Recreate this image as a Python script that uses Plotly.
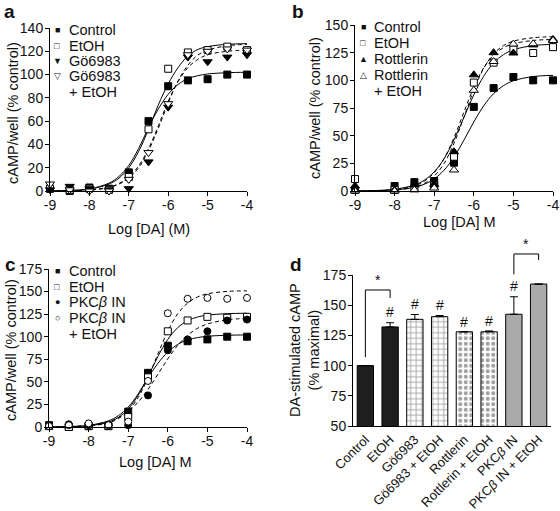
import plotly.graph_objects as go

# ---------------- data ----------------
LOG_DA = [-9, -8.5, -8, -7.5, -7, -6.5, -6, -5.5, -5, -4.5, -4]
LOG_DA_B = [-9, -8, -7.5, -7, -6.5, -6, -5.5, -5, -4.5, -4]
CURVE_X = [-9, -8.5, -8, -7.5, -7.25, -7, -6.75, -6.5, -6.25, -6, -5.75, -5.5, -5.25, -5, -4.5, -4]
X_TICKS = [-9, -8, -7, -6, -5, -4]
X_TICK_TEXT = ["-9", "-8", "-7", "-6", "-5", "-4"]

# panel a
A_CONTROL = [2, 0, 3, 2, 16, 60, 90, 95, 96, 100, 100]
A_ETOH = [2, 1, 2, 1, 12, 53, 105, 119, 121, 124, 121]
A_GO = [1, 4, 2, 1, 2, 25, 72, 115, 111, 115, 117]
A_GO_ETOH = [6, 1, 0, 0, 10, 33, 75, 117, 120, 122, 121]
A_CONTROL_FIT = [0.2, 0.5, 1.8, 6.8, 12.5, 22, 36.5, 54.5, 70.5, 83, 91.5, 96.5, 99, 100.5, 101.6, 102]
A_ETOH_FIT = [0.1, 0.4, 1.5, 6, 11, 20, 34, 53, 74, 92, 106, 116, 121.5, 124, 126, 126.5]
A_GO_FIT = [0, 0.2, 0.8, 3.3, 6.4, 12, 21.6, 36.3, 56, 77, 94, 106, 113, 117, 120, 121]
A_GO_ETOH_FIT = [0, 0.2, 0.8, 3, 5.9, 11, 20, 34.7, 54, 75.6, 94.5, 108, 116.7, 121, 124.7, 126]

# panel b
B_CONTROL = [1, 4.5, 8, 9, 25.6, 76, 93, 103, 100, 100]
B_ETOH = [10.8, 1, 2.7, 5, 31, 98, 116, 128, 124.7, 130]
B_ROTT = [4.5, 1, 5.4, 6, 35.5, 105, 125, 124.7, 132, 137]
B_ROTT_ETOH = [0, 0, 1, 2.7, 19, 91, 117, 132.8, 133, 136]
B_CONTROL_FIT = [0.1, 0.3, 1, 3.3, 6.1, 10.9, 18.9, 30.6, 45.9, 62.4, 77, 88, 95.2, 99.6, 103.4, 104.5]
B_ETOH_FIT = [0.1, 0.4, 1.6, 5.4, 9.8, 17.3, 29.2, 46.2, 66.5, 86.9, 103.7, 115.7, 123.2, 127.6, 131.4, 132.5]
B_ROTT_FIT = [0.1, 0.3, 1.2, 4.6, 8.8, 16.5, 29.4, 48.2, 71.3, 93.7, 111.3, 122.8, 129.5, 133.1, 136, 137]
B_ROTT_ETOH_FIT = [0, 0.2, 0.8, 3.4, 6.8, 13.4, 24.9, 43.1, 66.7, 91.1, 110.9, 123.9, 131.4, 135.4, 138.5, 139.4]

# panel c
C_CONTROL = [2, 0, 1, 1, 17, 60, 90, 95, 97, 100, 100]
C_ETOH = [1, 0, 1, 1, 11, 55, 106, 118, 122, 121, 122]
C_PKC = [2, 3, 2, 2, 2, 35, 85, 97, 106, 118, 119]
C_PKC_ETOH = [1, 2, 4, 2, 6, 51, 126, 142, 143, 142, 143]
C_CONTROL_FIT = [0.2, 0.5, 1.8, 6.8, 12.5, 22, 36.5, 54.5, 70.5, 83, 91.5, 96.5, 99, 100.5, 101.6, 102]
C_ETOH_FIT = [0.1, 0.3, 1.3, 5.4, 10.6, 20, 35.1, 55.8, 78.1, 97, 110, 117.7, 121.8, 123.9, 125.5, 126]
C_PKC_FIT = [0.2, 0.6, 2, 6, 10.3, 17.2, 27.6, 41.6, 58.4, 75.5, 90.4, 101.6, 109.3, 114.1, 118.7, 120.3]
C_PKC_ETOH_FIT = [0.1, 0.3, 1.1, 4.6, 9.2, 17.8, 32.5, 54.4, 80.9, 106.2, 125.3, 137.3, 144, 147.5, 150.2, 150.8]

# panel d
D_CATS = ["Control", "EtOH", "Gö6983", "Gö6983 + EtOH", "Rottlerin",
          "Rottlerin + EtOH", "PKC<i>β</i> IN", "PKC<i>β</i> IN + EtOH"]
D_VALUES = [100, 132, 138.3, 140.5, 128, 128, 142.5, 167.5]
D_ERR = [0, 3.5, 4, 1, 0, 0.7, 14.5, 0]
D_SIG = ["", "#", "#", "#", "#", "#", "#", "#"]

# legends
LEG_A = ["Control", "EtOH", "Gö6983", "Gö6983\n+ EtOH"]
LEG_B = ["Control", "EtOH", "Rottlerin", "Rottlerin\n+ EtOH"]
LEG_C = ["Control", "EtOH", "PKC<i>β</i> IN", "PKC<i>β</i> IN\n+ EtOH"]

# ---------------- layout helpers ----------------
W, H = 560, 511
FONT = "Liberation Sans, Arial, Helvetica, sans-serif"
TXT = "#111111"
FS = 14.5      # titles / legend text
TFS = 14       # tick labels


def pxx(x):
    return x / W


def pxy(y):
    return 1 - y / H


fig = go.Figure()

STYLE_FILLED = dict(color="black", line=dict(color="black", width=1))
STYLE_OPEN = dict(color="white", line=dict(color="black", width=1))


def add_panel(xa, ya, xs, series, fits, symbols, fills, dashes, sizes):
    for fit, dash in zip(fits, dashes):
        fig.add_trace(go.Scatter(
            x=CURVE_X, y=fit, mode="lines", xaxis=xa, yaxis=ya,
            line=dict(color="black", width=1, dash=dash, shape="spline", smoothing=1.0),
            showlegend=False, hoverinfo="skip", cliponaxis=False))
    for ys, sym, fill, size in zip(series, symbols, fills, sizes):
        m = dict(STYLE_FILLED if fill else STYLE_OPEN)
        m.update(symbol=sym, size=size)
        fig.add_trace(go.Scatter(
            x=xs, y=ys, mode="markers", xaxis=xa, yaxis=ya, marker=m,
            showlegend=False, cliponaxis=False))


SOLID, DASH = "solid", "4px,3px"

add_panel("x", "y", LOG_DA,
          [A_CONTROL, A_ETOH, A_GO, A_GO_ETOH],
          [A_CONTROL_FIT, A_ETOH_FIT, A_GO_FIT, A_GO_ETOH_FIT],
          ["square", "square", "triangle-down", "triangle-down"],
          [True, False, True, False],
          [SOLID, SOLID, DASH, DASH], [7, 7, 8, 8])

add_panel("x2", "y2", LOG_DA_B,
          [B_CONTROL, B_ETOH, B_ROTT, B_ROTT_ETOH],
          [B_CONTROL_FIT, B_ETOH_FIT, B_ROTT_FIT, B_ROTT_ETOH_FIT],
          ["square", "square", "triangle-up", "triangle-up"],
          [True, False, True, False],
          [SOLID, SOLID, DASH, DASH], [7, 7, 8, 8])

add_panel("x3", "y3", LOG_DA,
          [C_CONTROL, C_ETOH, C_PKC, C_PKC_ETOH],
          [C_CONTROL_FIT, C_ETOH_FIT, C_PKC_FIT, C_PKC_ETOH_FIT],
          ["square", "square", "circle", "circle"],
          [True, False, True, False],
          [SOLID, SOLID, DASH, DASH], [7, 7, 7, 7])

# bars
BAR_COLORS = ["#1e1e1e", "#1e1e1e", "white", "white", "white", "white", "#aaaaaa", "#aaaaaa"]
BAR_PATTERN = ["", "", "+", "+", ".", ".", "", ""]
BAR_SOLIDITY = [0.2, 0.2, 0.3, 0.3, 0.45, 0.45, 0.2, 0.2]
fig.add_trace(go.Bar(
    x=D_CATS, y=D_VALUES, xaxis="x4", yaxis="y4", width=0.66,
    marker=dict(color=BAR_COLORS, line=dict(color="black", width=1),
                pattern=dict(shape=BAR_PATTERN, fgcolor="black", bgcolor="white",
                             size=5.5, solidity=BAR_SOLIDITY)),
    error_y=dict(type="data", array=D_ERR, arrayminus=[0] * len(D_ERR), symmetric=False,
                 color="black", thickness=1, width=4),
    showlegend=False))

annotations = []
shapes = []

for cat, v, e, s in zip(D_CATS, D_VALUES, D_ERR, D_SIG):
    if s:
        annotations.append(dict(x=cat, y=v + e + 8.5, xref="x4", yref="y4", text=s,
                                showarrow=False, font=dict(size=14, color=TXT, family=FONT),
                                xanchor="center", yanchor="middle"))

D_LO, D_HI = 50, 175


def dfrac(v):
    return (v - D_LO) / (D_HI - D_LO)


for (i, j, yl, yt, yr) in [(0, 1, 107, 162.6, 156), (6, 7, 175.6, 192.4, 187.4)]:
    shapes.append(dict(type="path", xref="x4", yref="y4 domain",
                       path=f"M {i} {dfrac(yl)} L {i} {dfrac(yt)} L {j} {dfrac(yt)} L {j} {dfrac(yr)}",
                       line=dict(color="black", width=1)))
    annotations.append(dict(x=(i + j) / 2, y=dfrac(yt), xref="x4", yref="y4 domain", text="*",
                            showarrow=False, font=dict(size=14, color=TXT, family=FONT),
                            xanchor="center", yanchor="bottom"))

# ---------------- axes ----------------
AX = dict(showline=True, linecolor="black", linewidth=1, ticks="outside", ticklen=4,
          tickcolor="black", tickwidth=1, showgrid=False, zeroline=False, automargin=False,
          tickfont=dict(size=TFS, color=TXT, family=FONT))


def xax(x0, x1, anchor):
    d = dict(AX)
    d.update(domain=[pxx(x0), pxx(x1)], anchor=anchor, range=[-9, -4],
             tickvals=X_TICKS, ticktext=X_TICK_TEXT, ticklabelstandoff=-3)
    return d


def yax(y0, y1, anchor, rng, dtick):
    d = dict(AX)
    d.update(domain=[pxy(y0), pxy(y1)], anchor=anchor, range=rng, dtick=dtick, tick0=0,
             ticklabelstandoff=-1)
    return d


fig.update_layout(
    xaxis=xax(50, 247, "y"),
    yaxis=yax(191, 28, "x", [0, 140], 20),
    xaxis2=xax(355, 553, "y2"),
    yaxis2=yax(191, 25, "x2", [0, 150], 25),
    xaxis3=xax(49, 247, "y3"),
    yaxis3=yax(427, 269, "x3", [0, 175], 25),
)
xa4 = dict(AX)
xa4.update(domain=[pxx(353), pxx(551)], anchor="y4", type="category", range=[-0.5, 7.5],
           tickangle=-45, ticks="", tickfont=dict(size=13, color=TXT, family=FONT))
ya4 = dict(AX)
ya4.update(domain=[pxy(426), pxy(275)], anchor="x4", range=[50, 175], dtick=25, tick0=50,
           ticklabelstandoff=-1)
fig.update_layout(xaxis4=xa4, yaxis4=ya4)


def ann_px(x, y, text, size=FS, xanchor="center", yanchor="middle", angle=0, bold=False):
    t = f"<b>{text}</b>" if bold else text
    annotations.append(dict(x=pxx(x), y=pxy(y), xref="paper", yref="paper", text=t,
                            showarrow=False, textangle=angle,
                            font=dict(size=size, color=TXT, family=FONT),
                            xanchor=xanchor, yanchor=yanchor))


# panel letters
ann_px(9, 11, "a", size=19, bold=True)
ann_px(298, 11, "b", size=19, bold=True)
ann_px(10, 264, "c", size=19, bold=True)
ann_px(296, 264, "d", size=19, bold=True)

# axis titles
ann_px(149, 229, "Log [DA] (M)")
ann_px(459, 222, "Log [DA] M")
ann_px(155, 462, "Log [DA] M")
ann_px(13, 113, "cAMP/well (% control)", angle=-90)
ann_px(315, 108, "cAMP/well (% control)", angle=-90)
ann_px(11, 350, "cAMP/well (% control)", angle=-90)
ann_px(304, 350, "DA-stimulated cAMP<br>(% maximal)", angle=-90)


def legend(labels, syms, mx, tx, y0, step):
    y = y0
    for lab, sym in zip(labels, syms):
        lines = lab.split("\n")
        ann_px(mx, y, sym, size=9)
        for ln in lines:
            ann_px(tx, y, ln, xanchor="left")
            y += step


legend(LEG_A, ["■", "□", "▼", "▽"], 57, 67, 30, 15.5)
legend(LEG_B, ["■", "□", "▲", "△"], 363, 372, 27, 16)
legend(LEG_C, ["■", "□", "●", "○"], 57, 67, 271, 15.7)

fig.update_layout(
    width=W, height=H, margin=dict(l=0, r=0, t=0, b=0, pad=0, autoexpand=False),
    paper_bgcolor="white", plot_bgcolor="white",
    font=dict(family=FONT, color=TXT, size=FS),
    barmode="overlay",
    annotations=annotations, shapes=shapes,
)

fig.write_html("out.html", config={"displayModeBar": False},
               post_script="document.body.style.margin='0';document.body.style.overflow='hidden';")
